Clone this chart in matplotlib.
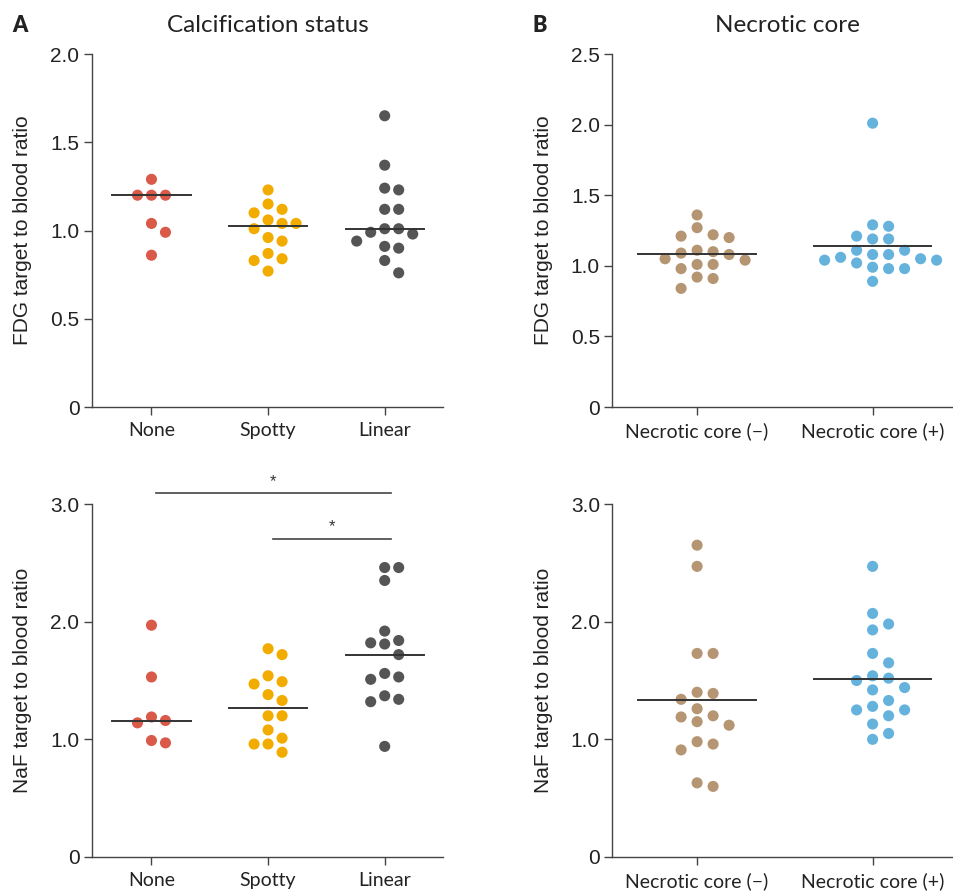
import numpy as np
import matplotlib
matplotlib.use("Agg")
import matplotlib.pyplot as plt

# --- data ---
calc_groups = ["None", "Spotty", "Linear"]
nc_groups = ["Necrotic core (\u2212)", "Necrotic core (+)"]

fdg_none = [1.29, 1.20, 1.20, 1.20, 1.04, 0.99, 0.86]
fdg_spotty = [1.23, 1.15, 1.10, 1.12, 1.04, 1.04, 1.06, 1.01, 0.94, 0.96, 0.87, 0.84, 0.83, 0.77]
fdg_linear = [1.65, 1.37, 1.23, 1.24, 1.12, 1.12, 1.01, 1.01, 0.99, 0.98, 0.94, 0.91, 0.90, 0.83, 0.76]

naf_none = [1.97, 1.53, 1.16, 1.14, 1.19, 0.97, 0.99]
naf_spotty = [1.77, 1.72, 1.54, 1.47, 1.49, 1.38, 1.33, 1.20, 1.20, 1.08, 0.96, 0.96, 1.01, 0.89]
naf_linear = [2.46, 2.46, 2.35, 1.92, 1.81, 1.84, 1.82, 1.72, 1.56, 1.51, 1.53, 1.34, 1.32, 1.37, 0.94]

fdg_nc_neg = [1.36, 1.27, 1.22, 1.21, 1.20, 1.11, 1.09, 1.10, 1.08, 1.04, 1.05, 1.01, 1.01, 0.98, 0.92, 0.91, 0.84]
fdg_nc_pos = [2.01, 1.29, 1.28, 1.21, 1.19, 1.19, 1.11, 1.11, 1.08, 1.08, 1.05, 1.04, 1.02, 1.04, 1.06,
              0.98, 0.98, 0.99, 0.89]

naf_nc_neg = [2.65, 2.47, 1.73, 1.73, 1.39, 1.40, 1.34, 1.26, 1.19, 1.15, 1.20, 1.12, 0.96, 0.98, 0.91, 0.60, 0.63]
naf_nc_pos = [2.47, 2.07, 1.98, 1.93, 1.73, 1.65, 1.52, 1.54, 1.50, 1.44, 1.42, 1.33, 1.25, 1.28, 1.25,
              1.20, 1.13, 1.05, 1.00]

# significance brackets in the NaF calcification panel: (from group, to group, label)
naf_calc_sig = [(0, 2, "*"), (1, 2, "*")]

calc_colors = ["#DA5A4A", "#F2AC00", "#555555"]
nc_colors = ["#B59572", "#65B3DD"]

tick_font = "Liberation Sans"
cat_font = "Lato"

fig = plt.figure(figsize=(9.54, 8.93), dpi=100)
W, H = 954, 893


def make_ax(x0, y_top, x1, y_bot):
    return fig.add_axes([x0 / W, 1 - y_bot / H, (x1 - x0) / W, (y_bot - y_top) / H])


def swarm_x(ax, xc, vals, step_px, dot_px=11.0, gap=1.15):
    # column-based beeswarm in pixel space, largest values first
    t = ax.transData
    ppu_y = t.transform((0, 1))[1] - t.transform((0, 0))[1]
    ppu_x = t.transform((1, 0))[0] - t.transform((0, 0))[0]
    vals = np.asarray(vals, float)
    cols = {}
    xs = np.zeros(len(vals))
    for i in np.argsort(-vals, kind="stable"):
        ypx = vals[i] * ppu_y
        for k in range(50):
            c = (k + 1) // 2 * (1 if k % 2 else -1)
            if all(abs(ypx - y) >= dot_px * gap for y in cols.get(c, [])):
                break
        cols.setdefault(c, []).append(ypx)
        xs[i] = xc + c * step_px / ppu_x
    return xs


def style(ax, groups, ylim, yticks, yticklabels, ylabel, xlim):
    ax.set_xlim(*xlim)
    ax.set_ylim(*ylim)
    for s in ("top", "right"):
        ax.spines[s].set_visible(False)
    for s in ("left", "bottom"):
        ax.spines[s].set_color("#444444")
        ax.spines[s].set_linewidth(1.0)
    ax.set_yticks(yticks)
    ax.set_yticklabels(yticklabels, fontfamily=tick_font, fontsize=15, color="#222222")
    ax.set_xticks(range(len(groups)))
    ax.set_xticklabels(groups, fontfamily=cat_font, fontsize=14, color="#222222")
    ax.tick_params(length=6, width=1.0, color="#444444", pad=3)
    ax.tick_params(axis="x", pad=5)
    ax.set_ylabel(ylabel, fontfamily=tick_font, fontsize=15, color="#222222", labelpad=13)
    ax.patch.set_visible(False)


def draw_groups(ax, data, colors, center, step_px):
    for i, (vals, col) in enumerate(zip(data, colors)):
        xs = swarm_x(ax, i, vals, step_px)
        ax.scatter(xs, vals, s=64, color=col, edgecolors="none", zorder=3, clip_on=False)
        c = np.median(vals) if center == "median" else np.mean(vals)
        ax.plot([i - 0.335, i + 0.335], [c, c], color="#333333", lw=1.4, zorder=4)


# panel A top
ax1 = make_ax(92, 54, 443, 407)
style(ax1, calc_groups, (0, 2.0), [0, 0.5, 1.0, 1.5, 2.0], ["0", "0.5", "1.0", "1.5", "2.0"],
      "FDG target to blood ratio", (-0.51, 2.5))
draw_groups(ax1, [fdg_none, fdg_spotty, fdg_linear], calc_colors, "median", 14)

# panel A bottom
ax3 = make_ax(92, 504, 443, 857)
style(ax3, calc_groups, (0, 3.0), [0, 1.0, 2.0, 3.0], ["0", "1.0", "2.0", "3.0"],
      "NaF target to blood ratio", (-0.51, 2.5))
draw_groups(ax3, [naf_none, naf_spotty, naf_linear], calc_colors, "median", 14)
for n, (a, b, lab) in enumerate(naf_calc_sig):
    yb = 3.09 - n * 0.39
    ax3.plot([a + 0.04, b + 0.05], [yb, yb], color="#444444", lw=1.2, clip_on=False)
    ax3.text((a + b) / 2 + 0.045, yb + 0.04, lab, ha="center", va="bottom", fontsize=12,
             color="#333333", fontfamily=tick_font)

# panel B top
ax2 = make_ax(612.5, 54, 953, 407)
style(ax2, nc_groups, (0, 2.5), [0, 0.5, 1.0, 1.5, 2.0, 2.5], ["0", "0.5", "1.0", "1.5", "2.0", "2.5"],
      "FDG target to blood ratio", (-0.482, 1.458))
draw_groups(ax2, [fdg_nc_neg, fdg_nc_pos], nc_colors, "mean", 16)

# panel B bottom
ax4 = make_ax(612.5, 504, 953, 857)
style(ax4, nc_groups, (0, 3.0), [0, 1.0, 2.0, 3.0], ["0", "1.0", "2.0", "3.0"],
      "NaF target to blood ratio", (-0.482, 1.458))
draw_groups(ax4, [naf_nc_neg, naf_nc_pos], nc_colors, "mean", 16)

# titles and panel letters
fig.text(267.5 / W, 1 - 25 / H, "Calcification status", ha="center", va="center",
         fontsize=17.5, fontfamily=cat_font, color="#222222")
fig.text(787 / W, 1 - 25 / H, "Necrotic core", ha="center", va="center",
         fontsize=17.5, fontfamily=cat_font, color="#222222")
fig.text(12 / W, 1 - 25 / H, "A", ha="left", va="center", fontsize=15.5, fontweight="heavy",
         fontfamily=cat_font, color="#222222")
fig.text(533 / W, 1 - 25 / H, "B", ha="left", va="center", fontsize=15.5, fontweight="heavy",
         fontfamily=cat_font, color="#222222")

fig.savefig("out.png", dpi=100)
